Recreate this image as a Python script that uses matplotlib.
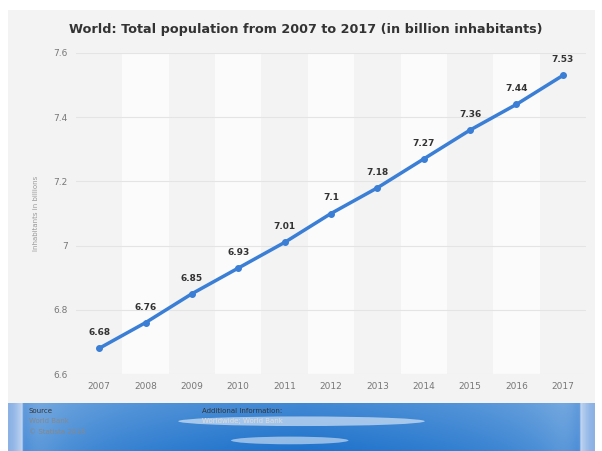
import numpy as np
import matplotlib.pyplot as plt
from matplotlib.patches import Ellipse

years = [2007, 2008, 2009, 2010, 2011, 2012, 2013, 2014, 2015, 2016, 2017]
population = [6.68, 6.76, 6.85, 6.93, 7.01, 7.1, 7.18, 7.27, 7.36, 7.44, 7.53]
labels = ['6.68', '6.76', '6.85', '6.93', '7.01', '7.1', '7.18', '7.27', '7.36', '7.44', '7.53']
yticks = [6.6, 6.8, 7.0, 7.2, 7.4, 7.6]
ytick_labels = ['6.6', '6.8', '7', '7.2', '7.4', '7.6']

W, H = 602, 451
fig = plt.figure(figsize=(W / 100, H / 100), dpi=100)
fig.patch.set_facecolor('white')

# grey card behind chart
bg = fig.add_axes([8 / W, 1 - 403 / H, 587 / W, (403 - 10) / H], zorder=-1)
bg.set_facecolor('#f3f3f3')
bg.set_xticks([])
bg.set_yticks([])
for s in bg.spines.values():
    s.set_visible(False)

ax = fig.add_axes([76 / W, 1 - 374 / H, (586 - 76) / W, (374 - 53) / H])
ax.set_facecolor('none')
for i, y in enumerate(years):
    if i % 2 == 1:
        ax.axvspan(y - 0.5, y + 0.5, color='white', alpha=0.7, lw=0, zorder=0)
ax.set_xlim(years[0] - 0.5, years[-1] + 0.5)
ax.set_ylim(6.6, 7.6)
ax.set_yticks(yticks)
ax.set_yticklabels(ytick_labels)
ax.set_xticks(years)
ax.set_xticklabels([str(y) for y in years])
ax.tick_params(length=0, labelsize=6.5, colors='#777777', pad=6)
for y in yticks:
    ax.axhline(y, color='#e4e4e4', lw=0.8, zorder=1)
for s in ax.spines.values():
    s.set_visible(False)

ax.plot(years, population, color='#3a7fd5', lw=2.5, marker='o', ms=4, zorder=3)
for x, v, t in zip(years, population, labels):
    ax.annotate(t, (x, v), xytext=(0, 8), textcoords='offset points',
                ha='center', va='bottom', fontsize=6.5, fontweight='bold', color='#333333')

ax.set_ylabel('Inhabitants in billions', fontsize=5, color='#999999', labelpad=10)

fig.text(0.508, 1 - 30 / H, 'World: Total population from 2007 to 2017 (in billion inhabitants)',
         ha='center', va='center', fontsize=9.2, fontweight='bold', color='#333333')

# footer band
fax = fig.add_axes([8 / W, 0, 587 / W, (451 - 403) / H])
xs = np.linspace(0, 1, 400)
prof = np.clip(1 - np.abs(xs - 0.5) * 2.1, 0, 1) ** 0.12
edge = np.exp(-((np.minimum(xs, 1 - xs)) / 0.03) ** 2)
grad = np.tile(prof, (20, 1))
rows = np.linspace(0.85, 1.0, 20)[:, None]
r = 1 - grad * 0.88 * rows - edge * 0.45
g = 1 - grad * 0.55 * rows - edge * 0.3
b = 1 - grad * 0.2 * rows - edge * 0.1
img = np.clip(np.dstack([r, g, b]), 0, 1)
fax.imshow(img, aspect='auto', extent=[0, 1, 0, 1], zorder=0)
fax.add_patch(Ellipse((0.5, 0.62), 0.42, 0.2, color='white', alpha=0.55, lw=0))
fax.add_patch(Ellipse((0.48, 0.22), 0.2, 0.16, color='white', alpha=0.5, lw=0))
fax.set_xlim(0, 1)
fax.set_ylim(0, 1)
fax.axis('off')
fax.text(0.035, 0.9, 'Source', fontsize=5, color='#333333', va='top')
fax.text(0.035, 0.68, 'World Bank', fontsize=5, color='#888888', va='top')
fax.text(0.035, 0.46, '© Statista 2018', fontsize=5, color='#888888', va='top')
fax.text(0.33, 0.9, 'Additional Information:', fontsize=5, color='#333333', va='top')
fax.text(0.33, 0.68, 'Worldwide; World Bank', fontsize=5, color='#dddddd', va='top')

fig.savefig('out.png', dpi=100)
